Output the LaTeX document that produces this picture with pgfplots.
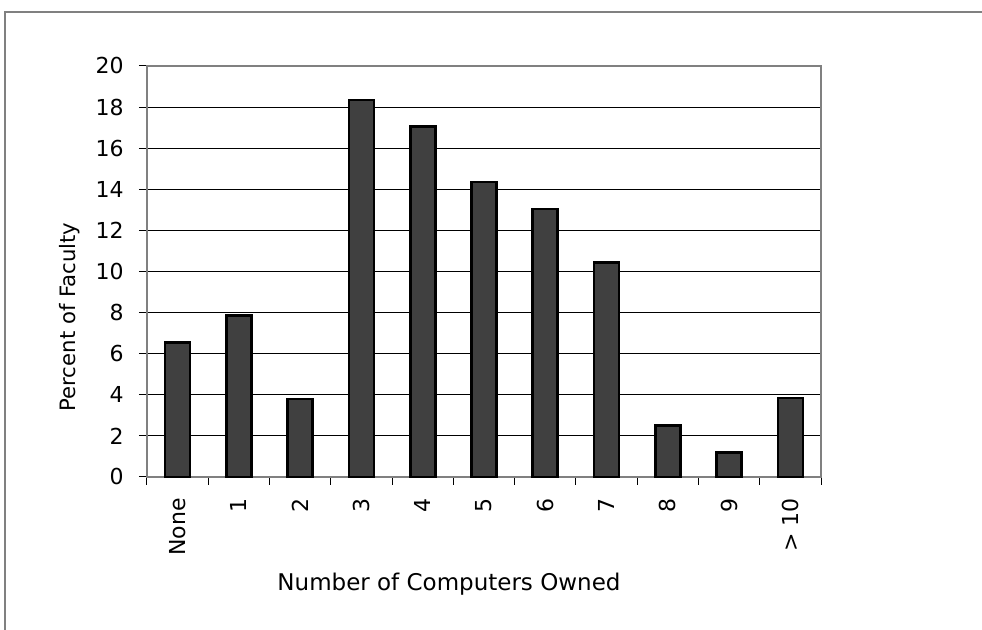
\documentclass[border=0pt]{standalone}
\usepackage{pgfplots}
\pgfplotsset{compat=1.18}
\usepackage{fontspec}
\setmainfont{DejaVu Sans}
\definecolor{barfill}{HTML}{404040}
\definecolor{framegray}{HTML}{808080}

\begin{document}
\begin{tikzpicture}
  % page area and outer chart frame
  \useasboundingbox (0,0) rectangle (491pt,315pt);
  \draw[framegray, line width=0.8pt] (2.5pt,-2pt) -- (2.5pt,309pt) -- (493pt,309pt);

  \begin{axis}[
    at={(73.5pt,76.5pt)}, anchor=south west,
    scale only axis, width=337pt, height=205.5pt,
    xmin=-0.5, xmax=10.5, ymin=0, ymax=20,
    ytick={0,2,...,20},
    xtick={0,...,10},
    xticklabels={None,1,2,3,4,5,6,7,8,9,> 10},
    minor xtick={-0.5,0.5,...,10.5},
    tick pos=left,
    tick align=outside,
    major x tick style={draw=none},
    minor x tick style={black, line width=0.5pt},
    minor tick length=4pt,
    y tick style={black, line width=0.5pt},
    major tick length=4pt,
    ymajorgrids,
    grid style={black, line width=0.5pt},
    axis line style={framegray, line width=0.8pt},
    /pgf/number format/assume math mode=true,
    tick label style={font=\fontsize{11pt}{13pt}\selectfont, inner sep=0pt},
    yticklabel style={anchor=east},
    yticklabel shift=7.5pt,
    xticklabel style={rotate=90, anchor=east},
    xticklabel shift=6.5pt,
    clip=false,
  ]
    \addplot[ybar, bar width=12.5pt, fill=barfill, draw=black, line width=1.3pt]
      coordinates {
        (0,6.55) (1,7.85) (2,3.8) (3,18.35) (4,17.05) (5,14.35)
        (6,13.05) (7,10.45) (8,2.5) (9,1.2) (10,3.85)
      };
  \end{axis}

  % axis titles
  \node[rotate=90, font=\fontsize{10.6pt}{13pt}\selectfont] at (35pt,156.5pt) {Percent of Faculty};
  \node[font=\fontsize{11.5pt}{13pt}\selectfont] at (224.5pt,23pt) {Number of Computers Owned};
\end{tikzpicture}
\end{document}
